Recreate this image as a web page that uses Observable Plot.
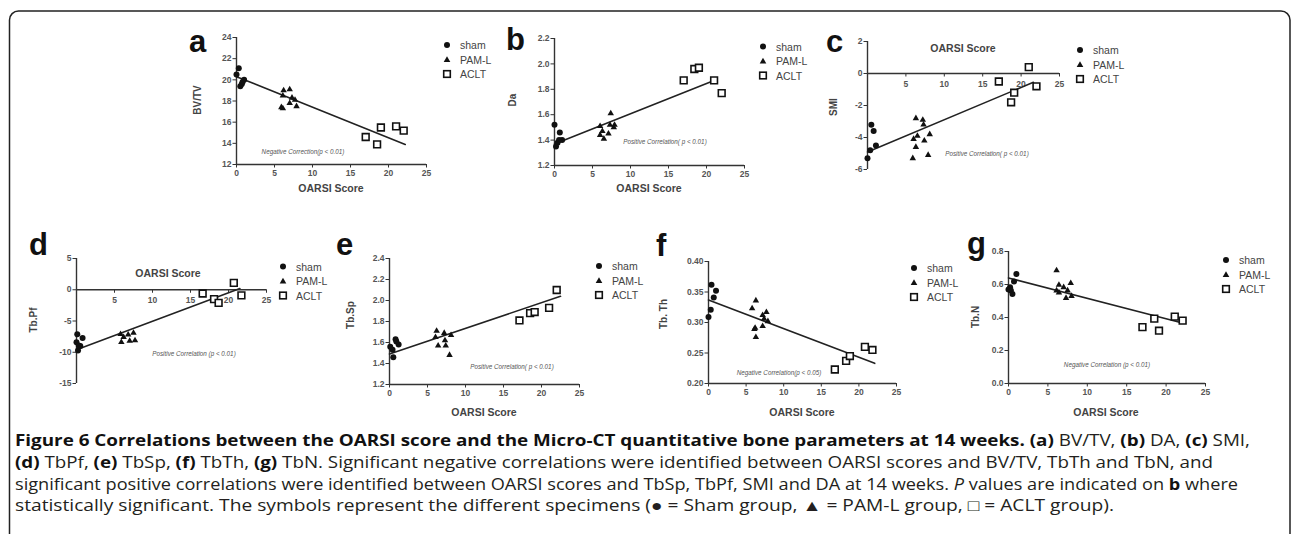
<!DOCTYPE html>
<html>
<head>
<meta charset="utf-8">
<script src="https://cdn.jsdelivr.net/npm/d3@7"></script>
<script src="https://cdn.jsdelivr.net/npm/@observablehq/plot@0.6"></script>
<style>
  html, body { margin:0; padding:0; background:#fff; }
  body { width:1292px; height:534px; overflow:hidden; position:relative; font-family:"Liberation Sans", Arial, sans-serif; }
  .panel { position:absolute; }
  #overlay { position:absolute; left:0; top:0; pointer-events:none; }
</style>
</head>
<body>
<div id="root"></div>
<script>
// ---------------- data (OARSI score, parameter value) ----------------
const xTicks = [0, 5, 10, 15, 20, 25];
const xTicksCross = [5, 10, 15, 20, 25];

// (a) BV/TV
const shamA = [[0,20.5],[0.3,21.1],[0.5,19.4],[0.7,19.6],[1.0,20.0],[0.8,19.8]];
const pamA  = [[6.2,19.0],[7.0,19.1],[6.1,18.5],[7.3,18.3],[7.7,18.1],[7.0,17.8],[7.9,17.5],[5.9,17.4],[6.1,17.3]];
const acltA = [[17,14.6],[19,15.5],[18.5,13.9],[21,15.6],[22,15.2]];
const fitA  = [[0,20.3],[22.2,13.9]];
const yTicksA = [12,14,16,18,20,22,24];

// (b) DA
const shamB = [[0,1.52],[0.7,1.46],[0.4,1.38],[0.2,1.35],[1.0,1.40],[0.6,1.40]];
const pamB  = [[7.4,1.61],[6.0,1.51],[6.0,1.44],[6.5,1.41],[7.1,1.45],[7.3,1.52],[7.9,1.52],[7.8,1.50],[6.3,1.47]];
const acltB = [[17,1.87],[18.4,1.96],[19,1.97],[21,1.87],[22,1.77]];
const fitB  = [[0,1.37],[21,1.87]];
const yTicksB = [1.2,1.4,1.6,1.8,2.0,2.2];

// (c) SMI
const shamC = [[0.5,-3.2],[0.8,-3.6],[1.1,-4.5],[0.35,-4.8],[0,-5.3]];
const pamC  = [[6.3,-2.8],[7.2,-2.9],[7.3,-3.2],[6.5,-3.9],[6.0,-4.1],[8.1,-3.8],[7.4,-4.2],[6.3,-4.6],[5.9,-5.3],[7.9,-5.1]];
const acltC = [[17.1,-0.5],[21.0,0.4],[22.0,-0.8],[19.1,-1.2],[18.7,-1.8]];
const fitC  = [[0,-4.9],[21.6,-0.55]];
const yTicksC = [-6,-4,-2,0,2];

// (d) Tb.Pf
const shamD = [[0.1,-7.1],[0.8,-7.7],[0,-8.4],[0.5,-9.0],[0.2,-9.7],[0.3,-8.9]];
const pamD  = [[5.8,-7.1],[6.8,-7.2],[7.5,-6.9],[5.9,-8.4],[7.0,-8.2],[7.7,-8.1],[6.2,-7.6]];
const acltD = [[16.6,-0.6],[20.7,1.1],[21.7,-0.9],[18.1,-1.5],[18.7,-2.1]];
const fitD  = [[0,-9.6],[21.5,0.2]];
const yTicksD = [-15,-10,-5,0,5];

// (e) Tb.Sp
const shamE = [[0.1,1.56],[0.8,1.63],[1.2,1.58],[0.4,1.53],[0.5,1.46],[0.9,1.61]];
const pamE  = [[6.2,1.71],[6.05,1.65],[7.2,1.69],[8.1,1.67],[6.4,1.57],[7.4,1.57],[7.3,1.62],[7.9,1.48]];
const acltE = [[17.1,1.81],[18.5,1.88],[19.1,1.89],[21.0,1.93],[22.0,2.10]];
const fitE  = [[0,1.49],[22.5,2.04]];
const yTicksE = [1.2,1.4,1.6,1.8,2.0,2.2,2.4];

// (f) Tb.Th
const shamF = [[0.4,0.362],[1.0,0.352],[0.7,0.341],[0.3,0.321],[0,0.309]];
const pamF  = [[6.3,0.336],[5.8,0.323],[7.7,0.317],[7.2,0.312],[7.4,0.306],[7.9,0.302],[6.2,0.291],[7.2,0.294],[6.1,0.289],[6.3,0.276]];
const acltF = [[16.8,0.223],[18.3,0.237],[18.8,0.245],[20.8,0.260],[21.8,0.255]];
const fitF  = [[0,0.337],[22.1,0.233]];
const yTicksF = [0.20,0.25,0.30,0.35,0.40];

// (g) Tb.N
const shamG = [[1.0,0.664],[0.7,0.618],[0.2,0.583],[0.3,0.563],[0.5,0.543],[0,0.57]];
const pamG  = [[6.1,0.685],[6.4,0.597],[7.9,0.608],[6.1,0.563],[6.4,0.551],[7.5,0.563],[7.3,0.518],[8.0,0.530],[7.0,0.583]];
const acltG = [[17.0,0.342],[18.5,0.393],[19.1,0.320],[21.1,0.405],[22.1,0.381]];
const fitG  = [[0,0.64],[22.2,0.365]];
const yTicksG = [0.0,0.2,0.4,0.6,0.8];

const groupNames = ["sham", "PAM-L", "ACLT"];

// ---------------- layout ----------------
const f1 = d3.format(".1f"), f2 = d3.format(".2f"), fs = d => String(d);
const panels = [
  {id:"a", sham:shamA, pam:pamA, aclt:acltA, fit:fitA, yt:yTicksA, fmt:fs, cross:false, box:[236,426,37,164],
   letter:[189,52], ylab:"BV/TV", ylabPos:[197,100], xlabPos:[331,192], note:"Negative Correction(p < 0.01)", notePos:[303,154], leg:[447,45]},
  {id:"b", sham:shamB, pam:pamB, aclt:acltB, fit:fitB, yt:yTicksB, fmt:f1, cross:false, box:[554,744,38,165],
   letter:[506,50], ylab:"Da", ylabPos:[512,100], xlabPos:[649,192], note:"Positive Correlation( p < 0.01)", notePos:[665,144], leg:[763,46.5]},
  {id:"c", sham:shamC, pam:pamC, aclt:acltC, fit:fitC, yt:yTicksC, fmt:fs, cross:true, box:[867,1059,41,169],
   letter:[826,52], ylab:"SMI", ylabPos:[833,107], xlabPos:[963,51.5], note:"Positive Correlation( p < 0.01)", notePos:[987,156], leg:[1080,50]},
  {id:"d", sham:shamD, pam:pamD, aclt:acltD, fit:fitD, yt:yTicksD, fmt:fs, cross:true, box:[76,266,258,383],
   letter:[29,255], ylab:"Tb.Pf", ylabPos:[33,320], xlabPos:[168,277], note:"Positive Correlation (p < 0.01)", notePos:[194,356], leg:[283,266.5]},
  {id:"e", sham:shamE, pam:pamE, aclt:acltE, fit:fitE, yt:yTicksE, fmt:f1, cross:false, box:[389,579,258,384],
   letter:[336,255], ylab:"Tb.Sp", ylabPos:[350,315], xlabPos:[484,416], note:"Positive Correlation( p < 0.01)", notePos:[512,369], leg:[599,266]},
  {id:"f", sham:shamF, pam:pamF, aclt:acltF, fit:fitF, yt:yTicksF, fmt:f2, cross:false, box:[708,896,261,383],
   letter:[656,256], ylab:"Tb. Th", ylabPos:[663,314], xlabPos:[802,416], note:"Negative Correlation(p < 0.05)", notePos:[779,375], leg:[914,268]},
  {id:"g", sham:shamG, pam:pamG, aclt:acltG, fit:fitG, yt:yTicksG, fmt:f1, cross:false, box:[1008,1205,251,383],
   letter:[967,254], ylab:"Tb.N", ylabPos:[975,317], xlabPos:[1106,416], note:"Negative Correlation (p < 0.01)", notePos:[1107,367], leg:[1226,260]},
];

const toObj = a => a.map(([x, y]) => ({x, y}));
const axisColor = "#333", textColor = "#555";
const root = document.getElementById("root");

for (const p of panels) {
  const [x0, x1, y0, y1] = p.box;
  const mL = 34, mR = 12, mT = 6, mB = 26;
  const yDomain = [p.yt[0], p.yt[p.yt.length - 1]];
  const marks = [
    Plot.axisY({ticks: p.yt, tickSize: 3.5, tickPadding: 1.5, tickFormat: p.fmt, stroke: axisColor, fill: textColor,
                fontWeight: "bold", fontSize: 8.5, label: null}),
    Plot.ruleX([0], {stroke: axisColor, strokeWidth: 1.4})
  ];
  if (!p.cross) {
    marks.push(Plot.ruleY([yDomain[0]], {stroke: axisColor, strokeWidth: 1.4}));
    marks.push(Plot.axisX({ticks: xTicks, tickSize: 3.5, tickPadding: 2, tickFormat: fs, stroke: axisColor, fill: textColor,
                           fontWeight: "bold", fontSize: 8.5, label: null}));
  } else {
    marks.push(Plot.ruleY([0], {stroke: axisColor, strokeWidth: 1.4}));
    marks.push(Plot.ruleX(xTicksCross, {x: d => d, y1: () => 0, y2: () => 0, insetTop: 3.5, stroke: axisColor, strokeWidth: 1}));
    marks.push(Plot.text(xTicksCross, {x: d => d, y: () => 0, text: fs, dy: 10.5, fill: textColor, fontWeight: "bold", fontSize: 8.5}));
  }
  marks.push(Plot.line(toObj(p.fit), {x: "x", y: "y", stroke: "#222", strokeWidth: 1.6}));
  marks.push(Plot.dot(toObj(p.sham), {x: "x", y: "y", r: 3, fill: "#111", symbol: "circle"}));
  marks.push(Plot.dot(toObj(p.pam), {x: "x", y: "y", r: 2.4, fill: "#111", symbol: "triangle"}));
  marks.push(Plot.dot(toObj(p.aclt), {x: "x", y: "y", r: 3.8, fill: "#fff", stroke: "#111", strokeWidth: 1.6, symbol: "square"}));

  const svg = Plot.plot({
    width: (x1 - x0) + mL + mR,
    height: (y1 - y0) + mT + mB,
    marginLeft: mL, marginRight: mR, marginTop: mT, marginBottom: mB,
    x: {domain: [0, 25], axis: p.cross ? null : undefined},
    y: {domain: yDomain},
    style: {background: "transparent", overflow: "visible", fontFamily: "Liberation Sans, Arial, sans-serif",
            fontWeight: "bold", fontSize: "8.5px", color: textColor},
    marks
  });
  const wrap = document.createElement("div");
  wrap.className = "panel";
  wrap.style.left = (x0 - mL) + "px";
  wrap.style.top = (y0 - mT) + "px";
  wrap.appendChild(svg);
  root.appendChild(wrap);
}

// ---------------- overlay: letters, labels, legends, caption, frame ----------------
const NS = "http://www.w3.org/2000/svg";
const ov = document.createElementNS(NS, "svg");
ov.setAttribute("id", "overlay");
ov.setAttribute("width", 1292);
ov.setAttribute("height", 534);
document.body.appendChild(ov);
function el(tag, attrs, text) {
  const e = document.createElementNS(NS, tag);
  for (const k in attrs) e.setAttribute(k, attrs[k]);
  if (text != null) e.textContent = text;
  ov.appendChild(e);
  return e;
}

el("rect", {x: 9.5, y: 11, width: 1280.5, height: 640, rx: 9, fill: "none", stroke: "#222", "stroke-width": 1.5});

for (const p of panels) {
  el("text", {x: p.letter[0], y: p.letter[1], "font-size": 31, "font-weight": "bold", fill: "#111",
              "font-family": "Liberation Sans, Arial, sans-serif"}, p.id);
  el("text", {x: 0, y: 0, transform: `translate(${p.ylabPos[0]},${p.ylabPos[1]}) rotate(-90)`, "text-anchor": "middle",
              "dominant-baseline": "central", "font-size": 10, "font-weight": "bold", fill: "#444",
              "font-family": "Liberation Sans, Arial, sans-serif"}, p.ylab);
  el("text", {x: p.xlabPos[0], y: p.xlabPos[1], "text-anchor": "middle", "font-size": 10.5, "font-weight": "bold", fill: "#444",
              "font-family": "Liberation Sans, Arial, sans-serif"}, "OARSI Score");
  el("text", {x: p.notePos[0], y: p.notePos[1], "text-anchor": "middle", "font-size": 6.3, "font-style": "italic", fill: "#555",
              "font-family": "Liberation Sans, Arial, sans-serif"}, p.note);
  const [lx, ly] = p.leg;
  const step = 14.5;
  el("circle", {cx: lx, cy: ly, r: 3, fill: "#111"});
  el("polygon", {points: `${lx},${ly + step - 3.3} ${lx - 3.3},${ly + step + 2.5} ${lx + 3.3},${ly + step + 2.5}`, fill: "#111"});
  el("rect", {x: lx - 3.3, y: ly + 2 * step - 3.3, width: 6.6, height: 6.6, fill: "#fff", stroke: "#111", "stroke-width": 1.6});
  groupNames.forEach((g, i) => {
    el("text", {x: lx + 13, y: ly + i * step, "dominant-baseline": "central", "font-size": 10.5, fill: "#444",
                "font-family": "Liberation Sans, Arial, sans-serif"}, g);
  });
}

// caption
const capLines = [
  {y: 446, x1: 1250, parts: [["b", "Figure 6 Correlations between the OARSI score and the Micro-CT quantitative bone parameters at 14 weeks. "], ["b", "(a)"], ["n", " BV/TV, "], ["b", "(b)"], ["n", " DA, "], ["b", "(c)"], ["n", " SMI,"]]},
  {y: 468, x1: 1213, parts: [["b", "(d)"], ["n", " TbPf, "], ["b", "(e)"], ["n", " TbSp, "], ["b", "(f)"], ["n", " TbTh, "], ["b", "(g)"], ["n", " TbN. Significant negative correlations were identified between OARSI scores and BV/TV, TbTh and TbN, and"]]},
  {y: 489.5, x1: 1238, parts: [["n", "significant positive correlations were identified between OARSI scores and TbSp, TbPf, SMI and DA at 14 weeks. "], ["i", "P"], ["n", " values are indicated on "], ["b", "b"], ["n", " where"]]},
  {y: 511, x1: 1114, parts: [["n", "statistically significant. The symbols represent the different specimens (\u25CF = Sham group, \u25B2 = PAM-L group, \u25A1 = ACLT group)."]]}
];
for (const line of capLines) {
  const t = el("text", {x: 15, y: line.y, "font-size": 16, fill: "#231f20", "font-family": "Open Sans, Noto Sans, sans-serif",
                        textLength: line.x1 - 15, lengthAdjust: "spacingAndGlyphs"});
  for (const [k, s] of line.parts) {
    const ts = document.createElementNS(NS, "tspan");
    if (k === "b") { ts.setAttribute("font-weight", "bold"); ts.setAttribute("fill", "#111"); }
    if (k === "i") ts.setAttribute("font-style", "italic");
    ts.textContent = s;
    t.appendChild(ts);
  }
}
</script>
</body>
</html>
